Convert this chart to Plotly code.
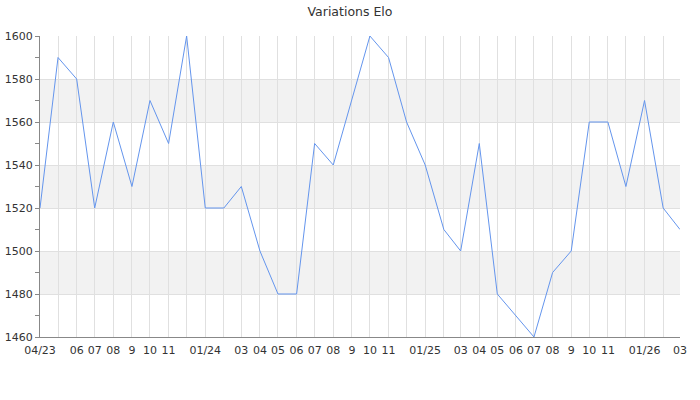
import plotly.graph_objects as go

months = [
    "2023-04", "2023-05", "2023-06", "2023-07", "2023-08", "2023-09", "2023-10", "2023-11", "2023-12",
    "2024-01", "2024-02", "2024-03", "2024-04", "2024-05", "2024-06", "2024-07", "2024-08", "2024-09",
    "2024-10", "2024-11", "2024-12", "2025-01", "2025-02", "2025-03", "2025-04", "2025-05", "2025-06",
    "2025-07", "2025-08", "2025-09", "2025-10", "2025-11", "2025-12", "2026-01", "2026-02", "2026-03",
]
elo = [
    1520, 1590, 1580, 1520, 1560, 1530, 1570, 1550, 1600,
    1520, 1520, 1530, 1500, 1480, 1480, 1550, 1540, 1570,
    1600, 1590, 1560, 1540, 1510, 1500, 1550, 1480, 1470,
    1460, 1490, 1500, 1560, 1560, 1530, 1570, 1520, 1510,
]
tick_labels = [
    "04/23", "", "06", "07", "08", "9", "10", "11", "",
    "01/24", "", "03", "04", "05", "06", "07", "08", "9",
    "10", "11", "", "01/25", "", "03", "04", "05", "06",
    "07", "08", "9", "10", "11", "", "01/26", "", "03",
]
band_ranges = [(1560, 1580), (1520, 1540), (1480, 1500)]
y_min, y_max = 1460, 1600

dates = [m + "-01" for m in months]

fig = go.Figure()
fig.add_trace(go.Scatter(
    x=dates, y=elo, mode="lines",
    line=dict(color="#6495ED", width=1),
    hoverinfo="x+y", showlegend=False,
))

for lo, hi in band_ranges:
    fig.add_shape(type="rect", xref="paper", yref="y", x0=0, x1=1, y0=lo, y1=hi,
                  fillcolor="#f2f2f2", line=dict(width=0), layer="below")

fig.update_layout(
    width=700, height=400,
    margin=dict(l=40, r=20, t=36, b=63, autoexpand=False),
    paper_bgcolor="white", plot_bgcolor="white",
    font=dict(family="DejaVu Sans", size=11, color="#333333"),
    title=dict(text="Variations Elo", x=0.5, xanchor="center", y=0.97, yanchor="middle",
               font=dict(family="DejaVu Sans", size=12.5, color="#333333")),
)
fig.update_xaxes(
    type="date", range=[dates[0], dates[-1]], automargin=False,
    tickmode="array", tickvals=dates, ticktext=tick_labels,
    showgrid=True, gridcolor="#e0e0e0", gridwidth=1,
    showline=True, linecolor="#888888", linewidth=1,
    ticks="outside", ticklen=3, tickcolor="rgba(0,0,0,0)",
    tickfont=dict(size=11, color="#333333"),
    zeroline=False,
)
fig.update_yaxes(
    range=[y_min, y_max], tickmode="linear", tick0=1460, dtick=20, automargin=False,
    showgrid=True, gridcolor="#e0e0e0", gridwidth=1,
    showline=True, linecolor="#888888", linewidth=1,
    ticks="outside", ticklen=4, tickcolor="#888888",
    minor=dict(dtick=10, ticks="outside", ticklen=4, tickcolor="#888888", showgrid=False),
    tickfont=dict(size=11, color="#333333"),
    zeroline=False,
)

fig.write_html("out.html", config={"displayModeBar": False},
               post_script="document.body.style.margin='0';")
